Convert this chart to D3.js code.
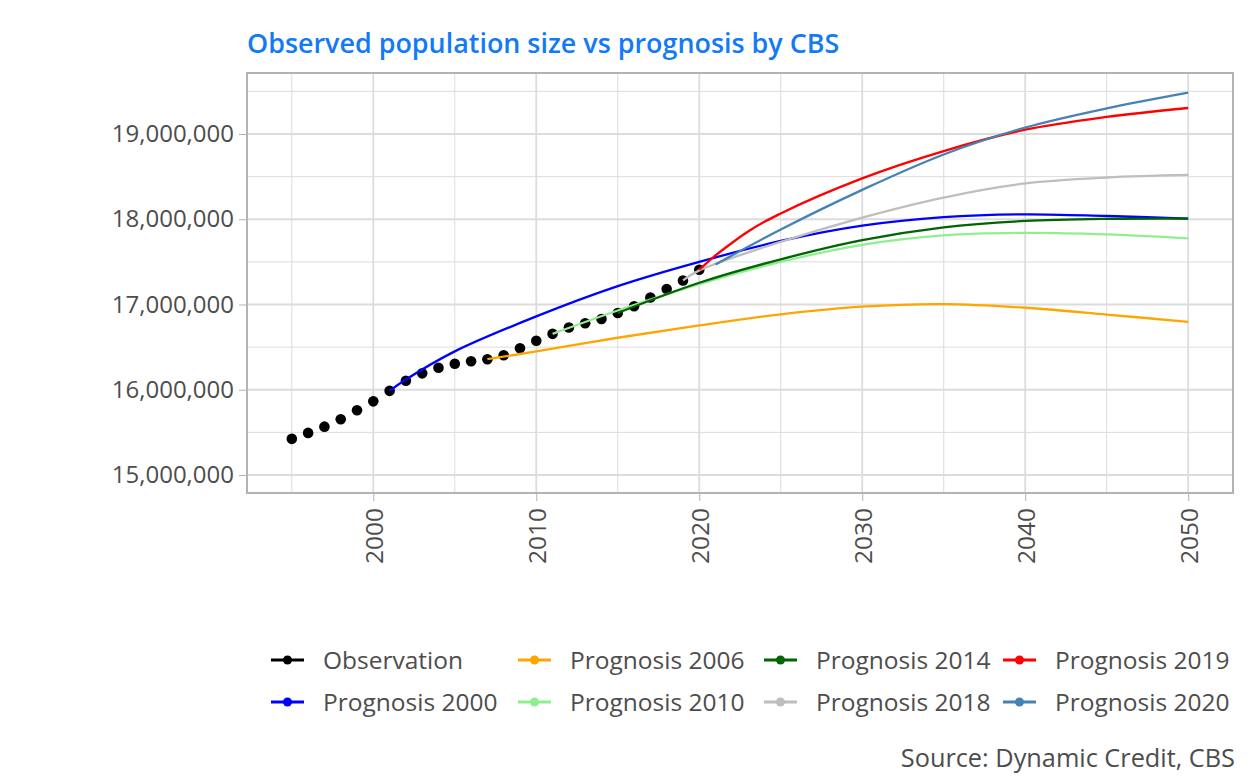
<!DOCTYPE html>
<html>
<head>
<meta charset="utf-8">
<script src="https://cdn.jsdelivr.net/npm/d3@7"></script>
<style>
  html, body { margin: 0; padding: 0; background: #ffffff; }
  svg { display: block; }
  text { font-family: "Open Sans", "Noto Sans", sans-serif; }
</style>
</head>
<body>
<script>
// ---------------- DATA ----------------
const obsYears = [1995,1996,1997,1998,1999,2000,2001,2002,2003,2004,2005,2006,2007,2008,2009,2010,2011,2012,2013,2014,2015,2016,2017,2018,2019,2020];
const obsValues = [15424122,15493889,15567107,15654192,15760225,15863950,15987075,16105285,16192572,16258032,16305526,16334210,16357992,16405399,16485787,16574989,16655799,16730348,16779575,16829289,16900726,16979120,17081507,17181084,17282163,17407585];

const p2000Years  = [2001,2002,2005,2010,2015,2020,2025,2030,2035,2040,2045,2050];
const p2000Values = [15987075,16120000,16450000,16860000,17215000,17500000,17745000,17925000,18025000,18058000,18038000,18008000];

const p2006Years  = [2007,2010,2015,2020,2025,2030,2035,2040,2045,2050];
const p2006Values = [16357992,16450000,16610000,16755000,16885000,16975000,17005000,16962000,16882000,16796000];

const p2010Years  = [2011,2015,2020,2025,2030,2035,2040,2045,2050];
const p2010Values = [16655799,16930000,17240000,17500000,17700000,17810000,17840000,17822000,17776000];

const p2014Years  = [2015,2020,2025,2030,2035,2040,2045,2050];
const p2014Values = [16900726,17255000,17530000,17755000,17905000,17980000,18005000,18008000];

const p2018Years  = [2019,2020,2025,2030,2035,2040,2045,2050];
const p2018Values = [17282163,17400000,17735000,18020000,18255000,18420000,18490000,18520000];

const p2019Years  = [2020,2021,2022,2023,2024,2025,2030,2035,2040,2045,2050];
const p2019Values = [17407585,17576000,17722000,17856000,17970000,18068000,18480000,18800000,19050000,19200000,19305000];

const p2020Years  = [2021,2025,2030,2035,2040,2045,2050];
const p2020Values = [17470000,17880000,18345000,18760000,19075000,19300000,19485000];

const seriesNames  = ["Observation","Prognosis 2000","Prognosis 2006","Prognosis 2010","Prognosis 2014","Prognosis 2018","Prognosis 2019","Prognosis 2020"];
const seriesColors = ["#000000","#0000ff","#ffa500","#90ee90","#006400","#bebebe","#ff0000","#4682b4"];

const xTickValues = [2000,2010,2020,2030,2040,2050];
const xMinorValues = [1995,2005,2015,2025,2035,2045];
const yTickValues = [15000000,16000000,17000000,18000000,19000000];
const yMinorValues = [15500000,16500000,17500000,18500000,19500000];

const titleText = "Observed population size vs prognosis by CBS";
const captionText = "Source: Dynamic Credit, CBS";

// ---------------- LAYOUT ----------------
const W = 1255, H = 779;
const panel = { left: 247, right: 1233, top: 73, bottom: 493 };
const textGrey = "#4d4d4d";
const gridCol = "#dcdcdc";
const borderCol = "#b3b3b3";

const svg = d3.select("body").append("svg").attr("width", W).attr("height", H);

const x = d3.scaleLinear().domain([1992.25, 2052.75]).range([panel.left, panel.right]);
const y = d3.scaleLinear().domain([14789000, 19715500]).range([panel.bottom, panel.top]);

// grid
const grid = svg.append("g");
grid.selectAll(".vmin").data(xMinorValues).join("line")
  .attr("x1", d => x(d)).attr("x2", d => x(d))
  .attr("y1", panel.top).attr("y2", panel.bottom)
  .attr("stroke", gridCol).attr("stroke-width", 1);
grid.selectAll(".hmin").data(yMinorValues).join("line")
  .attr("y1", d => y(d)).attr("y2", d => y(d))
  .attr("x1", panel.left).attr("x2", panel.right)
  .attr("stroke", gridCol).attr("stroke-width", 1);
grid.selectAll(".vmaj").data(xTickValues).join("line")
  .attr("x1", d => x(d)).attr("x2", d => x(d))
  .attr("y1", panel.top).attr("y2", panel.bottom)
  .attr("stroke", gridCol).attr("stroke-width", 1.8);
grid.selectAll(".hmaj").data(yTickValues).join("line")
  .attr("y1", d => y(d)).attr("y2", d => y(d))
  .attr("x1", panel.left).attr("x2", panel.right)
  .attr("stroke", gridCol).attr("stroke-width", 1.8);

// observation points
svg.append("g").selectAll("circle")
  .data(obsYears.map((yr, i) => ({ yr, v: obsValues[i] })))
  .join("circle")
  .attr("cx", d => x(d.yr)).attr("cy", d => y(d.v))
  .attr("r", 5.3).attr("fill", seriesColors[0]);

// prognosis lines
const progs = [
  [p2000Years, p2000Values],
  [p2006Years, p2006Values],
  [p2010Years, p2010Values],
  [p2014Years, p2014Values],
  [p2018Years, p2018Values],
  [p2019Years, p2019Values],
  [p2020Years, p2020Values]
];
const lineCR = d3.line().x(d => x(d[0])).y(d => y(d[1])).curve(d3.curveCatmullRom.alpha(0.5));
const lineMono = d3.line().x(d => x(d[0])).y(d => y(d[1])).curve(d3.curveMonotoneX);
progs.forEach((p, i) => {
  const pts = p[0].map((yr, j) => [yr, p[1][j]]);
  svg.append("path").datum(pts)
    .attr("d", i === 5 ? lineMono : lineCR)
    .attr("fill", "none")
    .attr("stroke", seriesColors[i + 1])
    .attr("stroke-width", 2.3)
    .attr("stroke-linecap", "butt");
});

// panel border
svg.append("rect")
  .attr("x", panel.left).attr("y", panel.top)
  .attr("width", panel.right - panel.left).attr("height", panel.bottom - panel.top)
  .attr("fill", "none").attr("stroke", borderCol).attr("stroke-width", 2);

// axes
const xAxis = svg.append("g").attr("transform", `translate(0,${panel.bottom + 1})`)
  .call(d3.axisBottom(x).tickValues(xTickValues).tickSize(7).tickPadding(8).tickFormat(d3.format("d")));
xAxis.select(".domain").remove();
xAxis.selectAll(".tick line").attr("stroke", borderCol).attr("stroke-width", 1);
xAxis.selectAll(".tick text")
  .attr("transform", "rotate(-90)")
  .attr("text-anchor", "end")
  .attr("x", -14).attr("y", 0).attr("dy", "0.36em")
  .attr("fill", textGrey).style("font-size", "24.5px")
  .style("font-family", "'Open Sans', sans-serif");

const yAxis = svg.append("g").attr("transform", `translate(${panel.left - 1},0)`)
  .call(d3.axisLeft(y).tickValues(yTickValues).tickSize(7).tickPadding(5).tickFormat(d3.format(",")));
yAxis.select(".domain").remove();
yAxis.selectAll(".tick line").attr("stroke", borderCol).attr("stroke-width", 1);
yAxis.selectAll(".tick text")
  .attr("fill", textGrey).style("font-size", "24px")
  .style("font-family", "'Open Sans', sans-serif");

// title
svg.append("text")
  .attr("x", 247).attr("y", 53)
  .attr("fill", "#127af5")
  .style("font-size", "26.9px").style("font-weight", 600)
  .text(titleText);

// legend
const legCols = [271, 518, 764, 1003];
const legRows = [660, 702];
const leg = svg.append("g");
seriesNames.forEach((name, i) => {
  const col = Math.floor(i / 2), row = i % 2;
  const gx = legCols[col], gy = legRows[row];
  const g = leg.append("g").attr("transform", `translate(${gx},${gy})`);
  g.append("line").attr("x1", 0).attr("x2", 33).attr("y1", 0).attr("y2", 0)
    .attr("stroke", seriesColors[i]).attr("stroke-width", 2.8);
  g.append("circle").attr("cx", 16.5).attr("cy", 0).attr("r", 4.5).attr("fill", seriesColors[i]);
  g.append("text").attr("x", 52).attr("y", 0).attr("dy", "0.35em")
    .attr("fill", textGrey).style("font-size", "24.5px").text(name);
});

// caption
svg.append("text")
  .attr("x", 1235).attr("y", 767).attr("text-anchor", "end")
  .attr("fill", textGrey).style("font-size", "25.3px")
  .text(captionText);
</script>
</body>
</html>
